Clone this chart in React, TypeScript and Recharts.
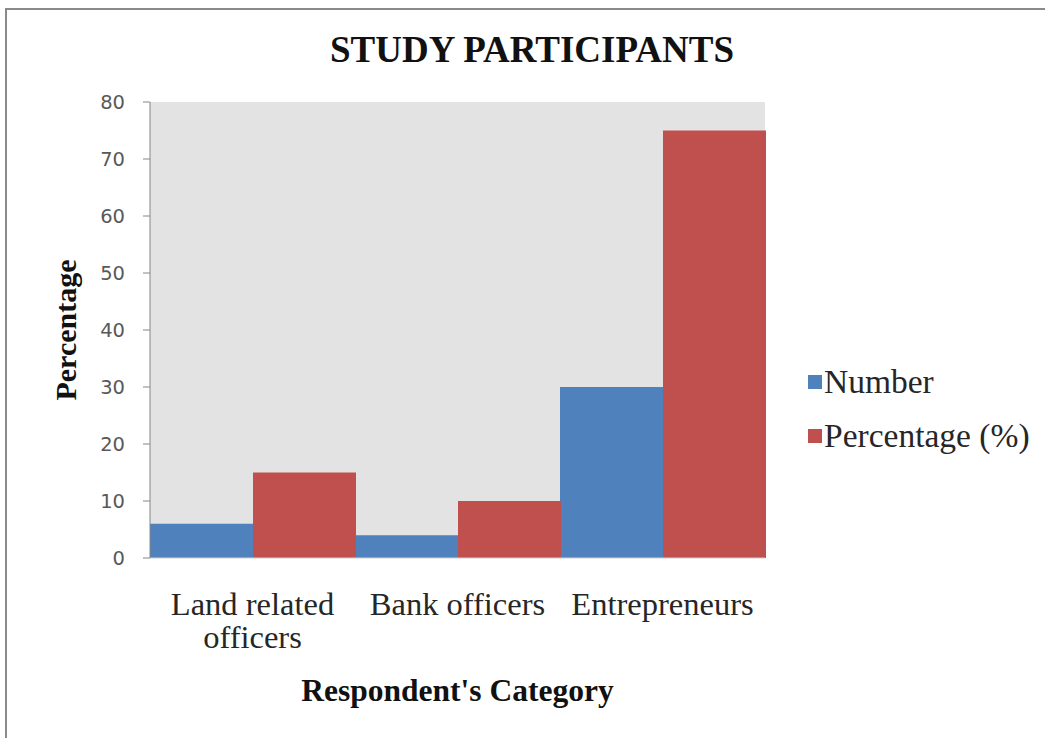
import React from "react";
import {
  Bar,
  BarChart,
  CartesianGrid,
  Legend,
  XAxis,
  YAxis,
  Label,
} from "recharts";

// values
const categories = ["Land related officers", "Bank officers", "Entrepreneurs"];
const tickLines = [["Land related", "officers"], ["Bank officers"], ["Entrepreneurs"]];
const numberValues = [6, 4, 30];
const percentageValues = [15, 10, 75];
const yTicks = [0, 10, 20, 30, 40, 50, 60, 70, 80];

const seriesNames = { number: "Number", pct: "Percentage (%)" };

const data = categories.map((c, i) => ({
  category: c,
  number: numberValues[i],
  pct: percentageValues[i],
}));

const SERIF = '"Liberation Serif", "Times New Roman", serif';
const SANS = '"DejaVu Sans", "Liberation Sans", sans-serif';

function CategoryTick(props: any) {
  const { x, y, payload } = props;
  const lines = tickLines[categories.indexOf(payload.value)] || [payload.value];
  return (
    <text
      x={x}
      y={y + 57}
      textAnchor="middle"
      style={{ fontFamily: SERIF, fontSize: 32.5, fill: "#262626" }}
    >
      {lines.map((l, i) => (
        <tspan key={i} x={x} dy={i === 0 ? 0 : 33}>
          {l}
        </tspan>
      ))}
    </text>
  );
}

function LegendBox(props: any) {
  const { payload } = props;
  return (
    <div style={{ fontFamily: SERIF, fontSize: 33.5, color: "#262626" }}>
      {(payload || []).map((item: any) => (
        <div
          key={item.value}
          style={{ display: "flex", alignItems: "center", height: 54 }}
        >
          <span
            style={{
              display: "inline-block",
              width: 14,
              height: 14,
              background: item.color,
              marginRight: 2,
            }}
          />
          <span>{item.value}</span>
        </div>
      ))}
    </div>
  );
}

export default function App() {
  return (
    <div
      style={{
        position: "absolute",
        left: 0,
        top: 0,
        width: 1045,
        height: 738,
        background: "#fff",
      }}
    >
      <div
        style={{
          position: "absolute",
          left: 5,
          top: 8,
          width: 1040,
          height: 730,
          borderTop: "2px solid #8a8a8a",
          borderLeft: "2px solid #8a8a8a",
          boxSizing: "border-box",
        }}
      />
      <div
        style={{
          position: "absolute",
          left: 232,
          top: 32,
          width: 600,
          textAlign: "center",
          fontFamily: SERIF,
          fontWeight: "bold",
          fontSize: 37,
          lineHeight: "36px",
          color: "#111",
        }}
      >
        STUDY PARTICIPANTS
      </div>
      <div style={{ position: "absolute", left: 0, top: 0 }}>
        <BarChart
          width={1045}
          height={738}
          data={data}
          margin={{ top: 102, right: 280, bottom: 120, left: 50 }}
          barCategoryGap={0}
          barGap={0}
        >
          <CartesianGrid
            fill="#e3e3e3"
            horizontal={false}
            vertical={false}
          />
          <XAxis
            dataKey="category"
            height={60}
            tickSize={0}
            tickMargin={0}
            tickLine={false}
            axisLine={{ stroke: "#d0d0d0" }}
            tick={<CategoryTick />}
            interval={0}
          >
            <Label
              content={(p: any) => (
                <text
                  x={p.viewBox.x + p.viewBox.width / 2}
                  y={701}
                  textAnchor="middle"
                  style={{
                    fontFamily: SERIF,
                    fontWeight: "bold",
                    fontSize: 31.5,
                    fill: "#111",
                  }}
                >
                  Respondent's Category
                </text>
              )}
            />
          </XAxis>
          <YAxis
            width={100}
            domain={[0, 80]}
            ticks={yTicks}
            interval={0}
            tickSize={7}
            tickMargin={18}
            axisLine={{ stroke: "#868686" }}
            tickLine={{ stroke: "#868686" }}
            tick={{ fontFamily: SANS, fontSize: 19.5, fill: "#595959" }}
          >
            <Label
              content={(p: any) => (
                <text
                  x={65}
                  y={p.viewBox.y + p.viewBox.height / 2}
                  textAnchor="middle"
                  dominantBaseline="central"
                  transform={`rotate(-90, 65, ${
                    p.viewBox.y + p.viewBox.height / 2
                  })`}
                  style={{
                    fontFamily: SERIF,
                    fontWeight: "bold",
                    fontSize: 30,
                    fill: "#111",
                  }}
                >
                  Percentage
                </text>
              )}
            />
          </YAxis>
          <Legend
            layout="vertical"
            align="center"
            verticalAlign="middle"
            wrapperStyle={{ left: 808, top: 355, width: 237 }}
            content={<LegendBox />}
          />
          <Bar
            dataKey="number"
            name={seriesNames.number}
            fill="#4f81bd"
            isAnimationActive={false}
          />
          <Bar
            dataKey="pct"
            name={seriesNames.pct}
            fill="#c0504d"
            isAnimationActive={false}
          />
        </BarChart>
      </div>
    </div>
  );
}
